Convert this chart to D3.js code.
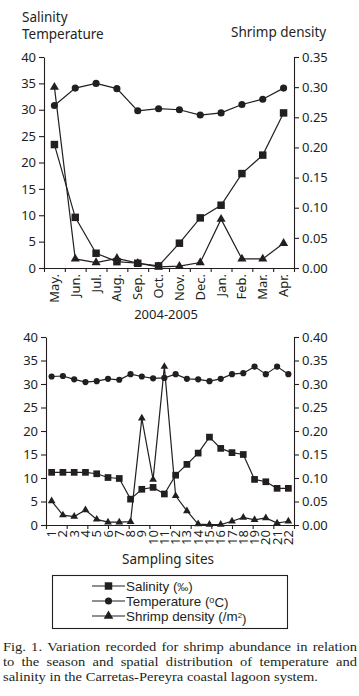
<!DOCTYPE html>
<html>
<head>
<meta charset="utf-8">
<script src="https://cdn.jsdelivr.net/npm/d3@7"></script>
<style>
  body { margin: 0; background: #fff; }
  svg { display: block; }
</style>
</head>
<body>
<div id="chart"></div>
<script>
// Monthly survey, May 2004 - Apr 2005
const months = ["May.", "Jun.", "Jul.", "Aug.", "Sep.", "Oct.", "Nov.", "Dec.", "Jan.", "Feb.", "Mar.", "Apr."];
const monthSalinity = [23.4, 9.6, 2.8, 1.2, 0.9, 0.4, 4.7, 9.5, 11.9, 17.9, 21.4, 29.4];
const monthTemperature = [30.8, 34.1, 35.0, 34.0, 29.8, 30.2, 30.0, 29.0, 29.4, 31.0, 32.0, 34.1];
const monthDensity = [0.300, 0.015, 0.009, 0.016, 0.008, 0.002, 0.003, 0.009, 0.081, 0.015, 0.015, 0.041];

// Spatial survey, 22 sampling sites
const sites = ["1", "2", "3", "4", "5", "6", "7", "8", "9", "10", "11", "12", "13", "14", "15", "16", "17", "18", "19", "20", "21", "22"];
const siteSalinity = [11.2, 11.2, 11.2, 11.2, 10.9, 10.1, 9.9, 5.5, 7.6, 8.0, 6.6, 10.6, 12.9, 15.3, 18.7, 16.3, 15.4, 15.0, 9.7, 9.2, 7.8, 7.8];
const siteTemperature = [31.6, 31.7, 31.0, 30.4, 30.6, 31.1, 30.9, 32.1, 31.6, 31.2, 31.3, 32.1, 31.1, 31.0, 30.6, 31.1, 32.1, 32.3, 33.7, 32.1, 33.7, 32.1];
const siteDensity = [0.051, 0.021, 0.018, 0.032, 0.012, 0.006, 0.006, 0.007, 0.227, 0.097, 0.337, 0.062, 0.030, 0.002, 0.001, 0.001, 0.008, 0.016, 0.011, 0.015, 0.004, 0.008];

// Tick labels
const leftTicks = [0, 5, 10, 15, 20, 25, 30, 35, 40];
const rightTicksTop = [0, 0.05, 0.10, 0.15, 0.20, 0.25, 0.30, 0.35];
const rightTicksBottom = [0, 0.05, 0.10, 0.15, 0.20, 0.25, 0.30, 0.35, 0.40];

const captionLines = [
  "Fig. 1. Variation recorded for shrimp abundance in relation",
  "to the season and spatial distribution of temperature and",
  "salinity in the Carretas-Pereyra coastal lagoon system."
];

const W = 359, H = 696;
const ink = "#231f20";
const sans = "'Noto Sans', sans-serif";

const svg = d3.select("#chart").append("svg")
  .attr("width", W)
  .attr("height", H)
  .style("font-family", sans)
  .style("fill", ink);

const symbols = {
  salinity: d3.symbolSquare,
  temperature: d3.symbolCircle,
  density: d3.symbolTriangle
};

function drawPanel(cfg) {
  const g = svg.append("g");

  const x = d3.scaleBand().domain(cfg.cats).range([cfg.left, cfg.right]);
  const yL = d3.scaleLinear().domain([0, 40]).range([cfg.bottom, cfg.top]);
  const yR = d3.scaleLinear().domain([0, d3.max(cfg.rightTicks)]).range([cfg.bottom, cfg.top]);
  // the x axis carries 12 even divisions in both panels
  const xTicks = d3.scaleLinear().domain([0, 12]).range([cfg.left, cfg.right]);
  const cx = d => x(d) + x.bandwidth() / 2;

  // Left axis
  const ax1 = g.append("g")
    .attr("transform", `translate(${cfg.left},0)`)
    .call(d3.axisLeft(yL).tickValues(leftTicks).tickSize(5).tickSizeOuter(0).tickPadding(3));

  // Right axis
  const ax2 = g.append("g")
    .attr("transform", `translate(${cfg.right},0)`)
    .call(d3.axisRight(yR).tickValues(cfg.rightTicks).tickFormat(d3.format(".2f"))
      .tickSize(5).tickSizeOuter(0).tickPadding(3));

  // Bottom axis
  const ax3 = g.append("g")
    .attr("transform", `translate(0,${cfg.bottom})`)
    .call(d3.axisBottom(xTicks).ticks(12).tickFormat("").tickSize(4).tickSizeOuter(0));

  [ax1, ax2, ax3].forEach(a => {
    a.attr("color", ink).attr("font-family", sans).attr("font-size", 13);
    a.selectAll("path, line").attr("stroke-width", 1.1);
  });

  // Category labels, rotated
  g.selectAll(".cat")
    .data(cfg.cats)
    .enter()
    .append("text")
    .attr("class", "cat")
    .attr("transform", d => `translate(${cx(d)},${cfg.bottom + cfg.labelGap}) rotate(-90)`)
    .attr("dy", "0.35em")
    .attr("text-anchor", "end")
    .style("font-size", "13px")
    .text(d => d);

  const series = [
    { key: "salinity", values: cfg.salinity, y: yL, size: cfg.sizes[0] },
    { key: "temperature", values: cfg.temperature, y: yL, size: cfg.sizes[1] },
    { key: "density", values: cfg.density, y: yR, size: cfg.sizes[2] }
  ];

  series.forEach(s => {
    const pts = cfg.cats.map((c, i) => [cx(c), s.y(s.values[i])]);
    g.append("path")
      .attr("d", d3.line()(pts))
      .attr("fill", "none")
      .attr("stroke", ink)
      .attr("stroke-width", 1.2);
    g.selectAll(`.m-${s.key}`)
      .data(pts)
      .enter()
      .append("path")
      .attr("class", `m-${s.key}`)
      .attr("transform", d => `translate(${d[0]},${d[1]})`)
      .attr("d", d3.symbol().type(symbols[s.key]).size(s.size))
      .attr("fill", ink);
  });

  return g;
}

// Top panel: seasonal variation
drawPanel({
  cats: months,
  left: 44, right: 294, top: 57, bottom: 268,
  rightTicks: rightTicksTop,
  salinity: monthSalinity,
  temperature: monthTemperature,
  density: monthDensity,
  labelGap: 6,
  sizes: [56, 40, 36]
});

// Bottom panel: spatial variation
drawPanel({
  cats: sites,
  left: 46, right: 294, top: 337, bottom: 525,
  rightTicks: rightTicksBottom,
  salinity: siteSalinity,
  temperature: siteTemperature,
  density: siteDensity,
  labelGap: 5,
  sizes: [45, 30, 26]
});

// Axis titles
svg.append("text").attr("x", 22).attr("y", 22).style("font-size", "13.5px").text("Salinity");
svg.append("text").attr("x", 22).attr("y", 39).style("font-size", "13.5px").text("Temperature");
svg.append("text").attr("x", 231).attr("y", 37).style("font-size", "13.5px").text("Shrimp density");
svg.append("text").attr("x", 166).attr("y", 319).attr("text-anchor", "middle")
  .style("font-size", "13px").text("2004-2005");
svg.append("text").attr("x", 168).attr("y", 564).attr("text-anchor", "middle")
  .style("font-size", "13.5px").text("Sampling sites");

// Legend
const legend = svg.append("g")
  .style("font-family", "'Liberation Sans', Arial, sans-serif")
  .style("font-size", "13.4px");
legend.append("rect")
  .attr("x", 52.5).attr("y", 575.5).attr("width", 235).attr("height", 53)
  .attr("fill", "none").attr("stroke", ink).attr("stroke-width", 1.1);

const legendItems = [
  { key: "salinity", size: 56 },
  { key: "temperature", size: 40 },
  { key: "density", size: 40 }
];
const legendY = d3.scalePoint().domain(legendItems.map(d => d.key)).range([586, 616]);

legendItems.forEach(item => {
  const y = legendY(item.key);
  legend.append("line")
    .attr("x1", 92).attr("x2", 125).attr("y1", y).attr("y2", y)
    .attr("stroke", ink).attr("stroke-width", 1.2);
  legend.append("path")
    .attr("transform", `translate(108.5,${y})`)
    .attr("d", d3.symbol().type(symbols[item.key]).size(item.size))
    .attr("fill", ink);
});

const lt1 = legend.append("text").attr("x", 126).attr("y", legendY("salinity")).attr("dy", "0.35em");
lt1.append("tspan").text("Salinity (");
lt1.append("tspan").style("font-size", "11px").text("‰");
lt1.append("tspan").text(")");

const lt2 = legend.append("text").attr("x", 126).attr("y", legendY("temperature")).attr("dy", "0.35em");
lt2.append("tspan").text("Temperature (");
lt2.append("tspan").attr("dy", "-0.3em").style("font-size", "9px").text("o");
lt2.append("tspan").attr("dy", "0.3em").text("C)");

const lt3 = legend.append("text").attr("x", 126).attr("y", legendY("density")).attr("dy", "0.35em");
lt3.append("tspan").text("Shrimp density (/m");
lt3.append("tspan").attr("dy", "-0.35em").style("font-size", "8px").text("2");
lt3.append("tspan").attr("dy", "0.35em").text(")");

// Caption, justified serif text
const capLeft = 3, capWidth = 354, lastWidth = 315;
const capBase = [651.2, 666, 680.9];
const capG = svg.append("g")
  .style("font-family", "'Liberation Serif', 'Times New Roman', serif")
  .style("font-size", "13.4px");

function measure(str) {
  const t = capG.append("text").text(str);
  const w = t.node().getComputedTextLength();
  t.remove();
  return w;
}

const sx = lastWidth / measure(captionLines[2]);

captionLines.forEach((line, li) => {
  const row = capG.append("g")
    .attr("transform", `translate(${capLeft},${capBase[li]}) scale(${sx},1)`);
  if (li === captionLines.length - 1) {
    row.append("text").text(line);
    return;
  }
  const words = line.split(" ");
  const widths = words.map(measure);
  const gap = (capWidth / sx - d3.sum(widths)) / (words.length - 1);
  let pos = 0;
  words.forEach((w, i) => {
    row.append("text").attr("x", pos).text(w);
    pos += widths[i] + gap;
  });
});
</script>
</body>
</html>
